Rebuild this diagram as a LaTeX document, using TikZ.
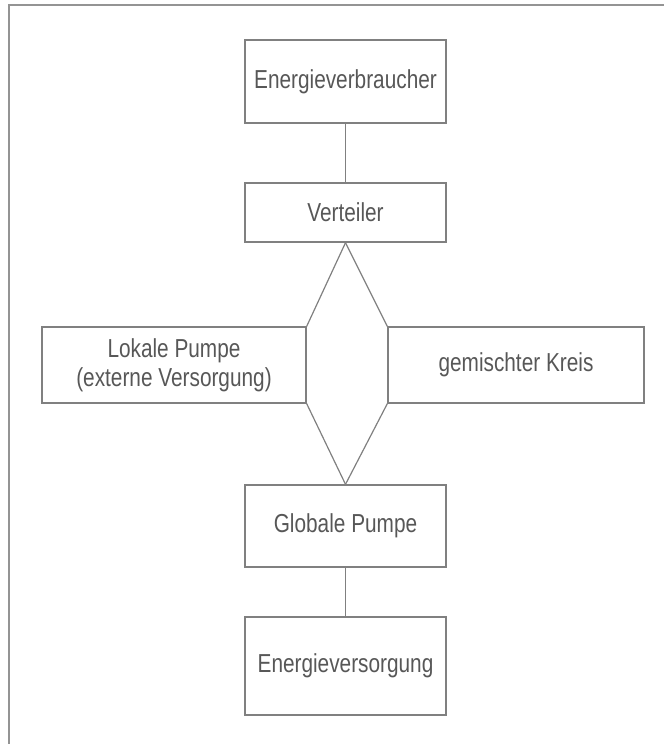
\documentclass[tikz,border=0pt]{standalone}
\usepackage{fontspec}
\setmainfont{Liberation Sans}[FakeStretch=0.8]
\begin{document}
\begin{tikzpicture}[x=1pt,y=-1pt,
  boxline/.style={draw=black!50,line width=1.4pt},
  frameline/.style={draw=black!42,line width=2pt},
  blk/.style={boxline,rectangle,inner sep=0pt,align=center,text=black!66,
    font=\fontsize{26}{29}\selectfont},
  conn/.style={draw=black!50,line width=1.2pt}]
\useasboundingbox (0,0) rectangle (664,744);
% outer frame (only left and top visible)
\coordinate (fa) at (8.5,744);
\coordinate (fb) at (8.5,5);
\coordinate (fc) at (664,5);
\draw[frameline] (fa) -- (fb) -- (fc);
% boxes
\node[blk,minimum width=201pt,minimum height=83pt] (ev) at (345.5,81.5) {Energieverbraucher};
\node[blk,minimum width=201pt,minimum height=59pt] (vt) at (345.5,212.5) {Verteiler};
\node[blk,minimum width=264pt,minimum height=76pt] (lp) at (174,365) {Lokale Pumpe\\(externe Versorgung)};
\node[blk,minimum width=256pt,minimum height=76pt] (gk) at (516,365) {gemischter Kreis};
\node[blk,minimum width=201pt,minimum height=82pt] (gp) at (345.5,526) {Globale Pumpe};
\node[blk,minimum width=201pt,minimum height=98pt] (es) at (345.5,666) {Energieversorgung};
% connectors
\draw[conn] (ev.south) -- (vt.north);
\draw[conn] (vt.south) -- (lp.north east);
\draw[conn] (vt.south) -- (gk.north west);
\draw[conn] (lp.south east) -- (gp.north);
\draw[conn] (gk.south west) -- (gp.north);
\draw[conn] (gp.south) -- (es.north);
\end{tikzpicture}
\end{document}
